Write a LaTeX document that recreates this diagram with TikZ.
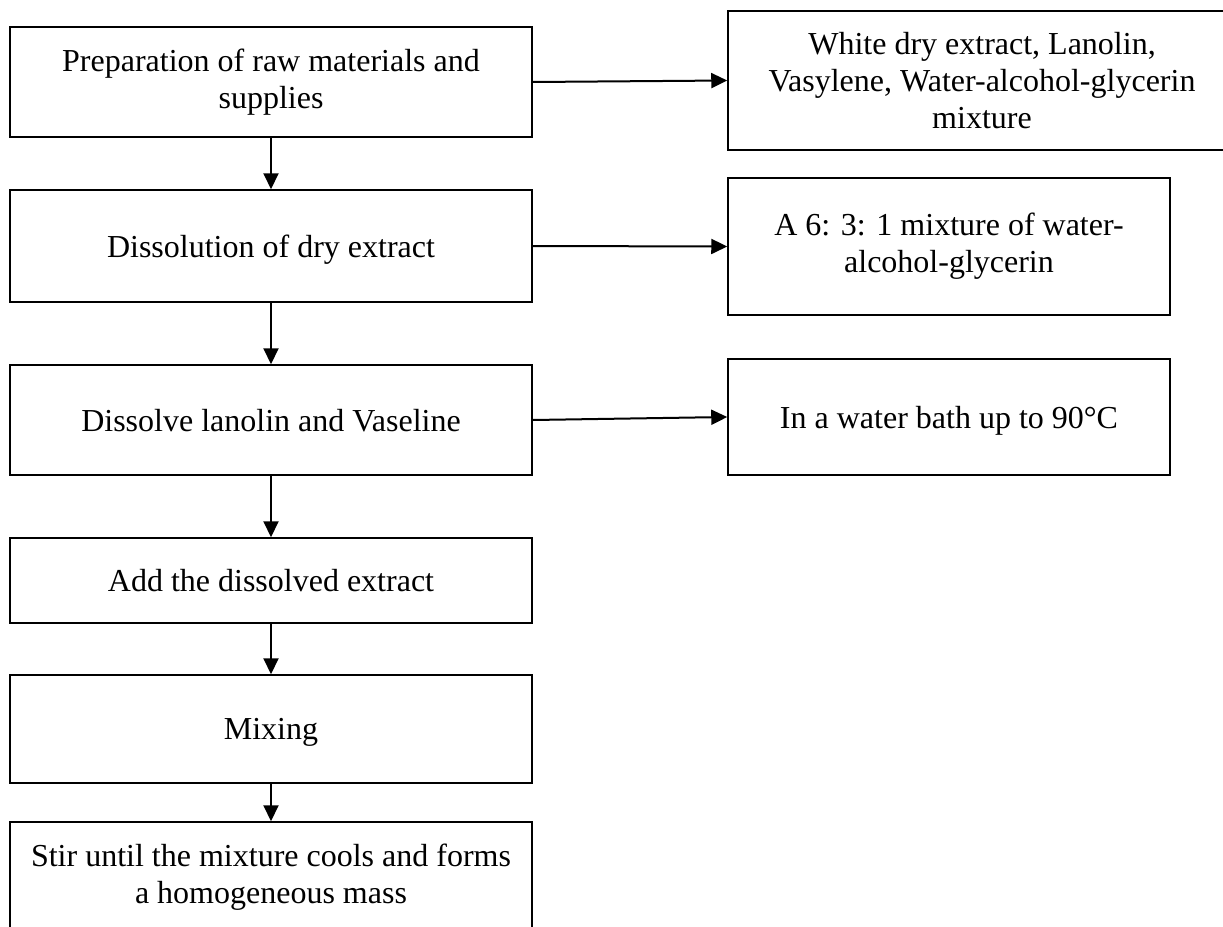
\documentclass[tikz,border=0pt]{standalone}
\usepackage{fontspec}
\setmainfont{Liberation Serif}
\usetikzlibrary{arrows.meta}
\begin{document}
\begin{tikzpicture}[x=1pt,y=-1pt,
  box/.style={draw, line width=1.5pt, inner sep=0pt, align=center,
    font=\fontsize{32}{36.8}\selectfont},
  single/.style={text depth=0pt},
  lbox/.style={box, minimum width=522pt},
  flow/.style={line width=2pt, -{Triangle[length=16pt,width=15pt]}}]
\useasboundingbox (0,0) rectangle (1223,926);
\clip (0,0) rectangle (1223,926);
% left column
\node[lbox, minimum height=110pt] (b1) at (271,82) {Preparation of raw materials and\\supplies};
\node[lbox, minimum height=112pt, single] (b2) at (271,246) {Dissolution of dry extract};
\node[lbox, minimum height=110pt, single] (b3) at (271,420) {Dissolve lanolin and Vaseline};
\node[lbox, minimum height=85pt, single] (b4) at (271,580.5) {Add the dissolved extract};
\node[lbox, minimum height=108pt, single] (b5) at (271,729) {Mixing};
\node[lbox, minimum height=110pt] (b6) at (271,877) {Stir until the mixture cools and forms\\a homogeneous mass};
% right column
\node[box, minimum width=508pt, minimum height=139pt] (r1) at (982,80.5) {White dry extract, Lanolin,\\Vasylene, Water-alcohol-glycerin\\mixture};
\node[box, minimum width=442pt, minimum height=137pt] (r2) at (949,246.5) {A 6: 3: 1 mixture of water-\\alcohol-glycerin};
\node[box, minimum width=442pt, minimum height=116pt, single] (r3) at (949,417) {In a water bath up to 90°C};
% connectors
\draw[flow] (b1) -- (b2);
\draw[flow] (b2) -- (b3);
\draw[flow] (b3) -- (b4);
\draw[flow] (b4) -- (b5);
\draw[flow] (b5) -- (b6);
\draw[flow] (b1.east) -- (r1.west);
\draw[flow] (b2.east) -- (r2.west);
\draw[flow] (b3.east) -- (r3.west);
\end{tikzpicture}
\end{document}
